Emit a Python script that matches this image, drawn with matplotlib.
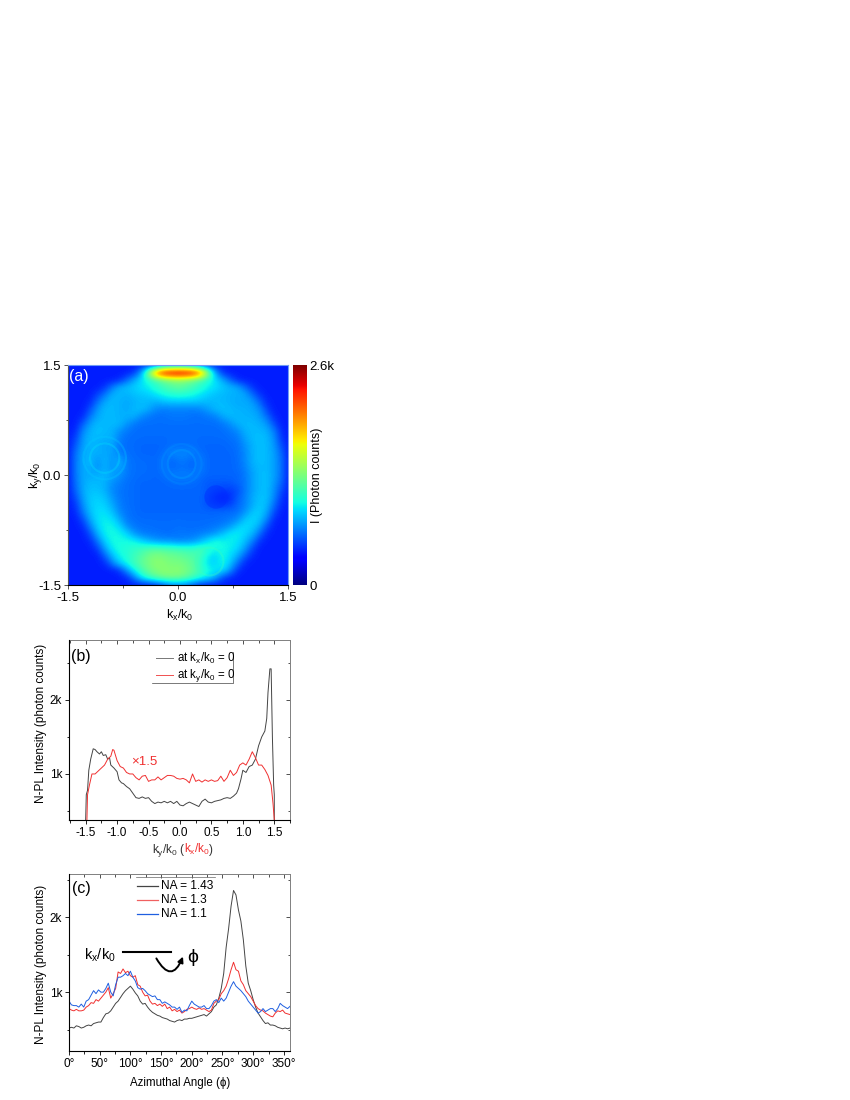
import numpy as np
import matplotlib
matplotlib.use('Agg')
import matplotlib.pyplot as plt
from matplotlib.patches import FancyArrowPatch, Circle
from matplotlib.lines import Line2D

plt.rcParams['font.family'] = ['Liberation Sans', 'DejaVu Sans']
plt.rcParams['mathtext.default'] = 'regular'

W, H = 850, 1100

# --------------------------------------------------
# Panel (a): intensity map, read off on a 0.1 grid (units of 10 counts)
# top row is ky = 1.5, left column is kx = -1.5
# --------------------------------------------------
map_rows = [
    [42]*12 + [46,52,58,60,58,52,46] + [42]*12,
    [42]*9 + [46,70,140,215,250,258,260,258,250,215,140,70,46] + [42]*9,
    [42]*7 + [44,54,70,84,96,108,118,126,130,126,118,108,96,84,70,54,44] + [42]*7,
    [42]*5 + [46,58,72,76,80,84,90,98,106,112,116,112,106,98,90,84,78,74,70,56,46] + [42]*5,
    [42]*4 + [48,58,72,74,72,76,78,80,86,92,96,98,96,92,86,80,76,74,72,72,70,56,46] + [42]*4,
    [42]*3 + [44,56,70,74,72,70,72,74,74,72,76,78,78,78,78,76,74,74,74,72,70,70,68,54,44] + [42]*3,
    [42]*3 + [50,66,74,74,72,70,74,76,70,62,60,60,60,60,60,62,68,74,76,74,72,72,70,64,48] + [42]*3,
    [42]*2 + [44,58,70,74,74,72,72,72,62,58,56,56,58,58,58,56,56,58,60,70,74,74,72,72,68,56,44] + [42]*2,
    [42]*2 + [52,68,74,74,74,74,66,58,56] + [56]*9 + [56,58,64,72,74,74,72,66,50] + [42]*2,
    [42,44,62,72,76,74,72,64,58,56,55] + [55]*9 + [55,56,58,62,72,74,74,72,60,44,42],
    [42,48,66,74,74,72,72,60,56,55,55] + [55]*9 + [55,55,56,58,68,74,76,74,64,46,42],
    [42,52,68,74,72,68,70,58,55,55,54,54,54,54,56,56,56,56,54,54,54,54,55,56,64,72,76,74,66,50,42],
    [42,56,70,72,72,70,68,60,56,55,54,54,54,56,62,62,62,60,56,54,54,54,54,56,62,72,76,74,68,54,42],
    [42,58,70,76,64,74,64,72,58,56,55,55,54,60,54,58,58,54,60,54,54,54,54,55,62,72,76,74,68,56,42],
    [42,58,70,72,64,72,64,70,58,56,55,55,54,60,54,56,56,54,60,54,54,54,54,55,60,70,74,74,68,56,42],
    [42,58,70,70,72,74,70,64,58,56,55,55,54,56,60,60,60,60,56,54,54,54,54,54,58,68,74,76,68,56,42],
    [42,56,70,74,74,72,64,60,56,55,54,54,54,54,55,56,56,55,54,52,52,52,52,54,58,68,74,76,66,54,42],
    [42,54,70,76,76,72,62,58,56,55,54,54,54,54,54,54,54,54,54,52,50,48,48,50,58,68,74,76,64,50,42],
    [42,50,68,78,80,76,66,58,56,55,54,54,54,54,54,54,54,54,54,50,44,42,44,52,60,70,76,76,62,46,42],
    [42,46,64,78,82,80,70,60,56,55,54,54,54,54,54,54,54,54,54,50,48,46,48,54,60,70,78,74,56,44,42],
    [42,44,58,76,84,84,76,62,57,55,54] + [54]*9 + [54,55,55,56,64,76,80,70,50,42,42],
    [42,42,50,70,84,88,84,70,58,56,55] + [55]*9 + [55,56,58,62,76,82,78,62,44,42,42],
    [42,42,44,60,80,90,90,82,64,58,56,56,55,55,55,56,55,55,55,56,58,60,66,78,84,80,70,50,42,42,42],
    [42,42,42,50,72,88,92,90,82,66,60,58,58,56,56,58,58,58,60,62,66,76,86,88,82,74,56,44,42,42,42],
    [42,42,42,44,58,80,92,92,92,90,80,72,66,64,64,60,62,64,72,84,94,90,88,86,76,62,46,42,42,42,42],
    [42]*4 + [48,68,88,94,96,100,104,108,110,108,106,104,102,102,106,100,92,92,88,82,68,50] + [42]*5,
    [42]*5 + [54,74,90,96,104,112,122,126,124,120,118,114,110,106,88,82,92,84,72,54,44] + [42]*5,
    [42]*5 + [44,60,80,92,106,116,124,130,128,124,124,120,114,100,84,80,92,78,58,44] + [42]*6,
    [42]*7 + [46,66,88,106,120,126,130,128,130,124,116,104,92,88,84,66,46] + [42]*7,
    [42]*8 + [44,60,86,102,114,122,124,122,116,106,96,86,70,50,44] + [42]*8,
    [42]*12 + [44,50,58,60,58,50,44] + [42]*12,
]
# readings recalibrated against the colour bar
map_counts = np.interp(np.array(map_rows), [42, 55, 74, 120, 260], [40, 60, 80, 125, 260]) * 10.0
count_max = 2600

# rings seen around the three spots: kx, ky, radius, counts
ring_x = [-1.0, -1.0, 0.05, 0.05, 0.43]
ring_y = [0.23, 0.23, 0.15, 0.15, -1.18]
ring_r = [0.20, 0.29, 0.19, 0.27, 0.19]
ring_c = [900, 840, 760, 700, 1100]
# dark spot in the inner disc
spot_x, spot_y, spot_r, spot_c = 0.52, -0.30, 0.16, 440

# --------------------------------------------------
# Panel (b): line cuts (counts / 1000)
# --------------------------------------------------
k_black = [-1.5,-1.49,-1.47,-1.45,-1.42,-1.38,-1.35,-1.32,-1.28,-1.25,-1.22,-1.18,-1.15,-1.12,-1.1,-1.05,-1.0,-.97,-.93,-.9,
           -.85,-.8,-.75,-.7,-.65,-.6,-.55,-.5,-.45,-.4,-.35,-.3,-.25,-.2,-.15,-.1,-.05,0,.05,.1,.15,.2,.25,.3,.35,.4,.45,.5,
           .55,.6,.65,.7,.75,.8,.85,.9,.93,.97,1.0,1.05,1.1,1.15,1.2,1.25,1.3,1.35,1.38,1.4,1.43,1.45,1.47,1.49,1.5,1.5]
i_black = [.38,.72,.78,1.05,1.2,1.34,1.33,1.30,1.27,1.3,1.25,1.26,1.2,1.22,1.12,1.08,1.03,.92,.88,.87,
           .83,.8,.74,.68,.67,.69,.67,.68,.63,.6,.62,.61,.63,.61,.63,.6,.63,.58,.57,.6,.62,.6,.58,.56,.63,.66,.62,.61,
           .63,.64,.65,.67,.68,.67,.7,.74,.8,.93,1.05,1.02,1.1,1.12,1.2,1.38,1.5,1.58,1.75,2.1,2.42,2.42,1.5,.85,.72,.38]
k_red = [-1.48,-1.47,-1.44,-1.4,-1.35,-1.3,-1.25,-1.2,-1.15,-1.1,-1.07,-1.05,-1.0,-.95,-.9,-.85,-.8,-.75,-.7,-.65,-.6,-.55,
         -.5,-.45,-.4,-.35,-.3,-.25,-.2,-.15,-.1,-.05,0,.05,.1,.15,.2,.25,.3,.35,.4,.45,.5,.55,.6,.65,.7,.75,.8,.85,.9,.95,
         1.0,1.05,1.1,1.15,1.2,1.25,1.3,1.35,1.4,1.45,1.48,1.5]
i_red = [.38,.72,.85,1.0,1.0,1.04,1.08,1.12,1.2,1.24,1.33,1.32,1.18,1.1,1.08,1.02,1.0,1.0,.95,.92,.97,.98,
         .9,.92,.92,.96,.92,.95,.98,.98,.97,.94,.93,.94,.92,.88,1.0,.9,.92,.89,.92,.9,.92,.9,.91,.97,.9,.95,1.05,.98,1.02,1.12,
         1.15,1.12,1.2,1.3,1.22,1.12,1.12,1.06,.98,.85,.6,.38]

# --------------------------------------------------
# Panel (c): azimuthal profiles, read every 4 degrees (counts / 1000)
# --------------------------------------------------
phi = list(range(0, 361, 4))
na_143 = [.52,.53,.52,.55,.54,.52,.53,.55,.56,.55,.58,.59,.6,.6,.66,.71,.72,.75,.8,.85,.88,.93,.98,1.02,1.05,1.08,
          1.04,.99,.95,.88,.84,.85,.8,.76,.73,.71,.69,.68,.66,.65,.64,.62,.61,.6,.62,.63,.62,.64,.64,.65,.65,.66,.67,.68,.69,.7,
          .68,.71,.74,.8,.83,.92,1.05,1.25,1.6,1.85,2.15,2.36,2.3,2.1,1.95,1.7,1.35,1.12,1.02,.9,.8,.72,.67,.62,.58,.59,.56,.56,.55,.53,.52,.51,.52,.51,.52]
na_13 = [.78,.76,.75,.77,.75,.75,.76,.8,.82,.86,.85,.9,.88,.92,.96,1.0,1.06,.92,.98,1.05,1.27,1.25,1.31,1.26,1.28,1.22,
         1.2,1.22,1.1,1.08,1.0,.95,.96,.88,.84,.85,.82,.84,.81,.84,.78,.8,.75,.77,.74,.76,.72,.74,.77,.78,.8,.78,.77,.79,.77,.78,
         .76,.74,.76,.85,.88,.9,.98,1.02,1.08,1.18,1.3,1.4,1.3,1.28,1.15,1.1,1.02,.98,.94,.88,.82,.78,.76,.75,.72,.7,.68,.67,.72,.75,.74,.76,.72,.71,.7]
na_11 = [.88,.83,.82,.82,.8,.84,.8,.88,.9,.96,1.02,.98,1.03,1.0,1.0,1.05,1.12,1.0,.95,1.1,1.2,1.2,1.22,1.25,1.22,1.28,
         1.2,1.15,1.06,1.04,1.05,1.02,.98,.96,.94,.95,.9,.9,.85,.87,.85,.83,.8,.8,.77,.8,.73,.76,.75,.82,.88,.84,.82,.8,.8,.82,
         .78,.78,.82,.88,.9,.86,.92,.88,.92,1.0,1.08,1.14,1.08,1.05,1.02,.98,.94,.88,.84,.8,.76,.72,.74,.78,.74,.76,.78,.78,.74,.78,.85,.82,.8,.78,.81]


def ax_px(left, top, right, bottom):
    return [left / W, 1 - bottom / H, (right - left) / W, (bottom - top) / H]


def txt(x, y, s, **kw):
    kw.setdefault('ha', 'center')
    kw.setdefault('va', 'center')
    return fig.text(x / W, 1 - y / H, s, **kw)


def mirror_ticks(ax):
    """inward ticks on top and right, no labels"""
    top = ax.secondary_xaxis('top')
    top.set_xticks(ax.get_xticks(), labels=[])
    top.set_xticks(ax.get_xticks(minor=True), minor=True)
    right = ax.secondary_yaxis('right')
    right.set_yticks(ax.get_yticks(), labels=[])
    right.set_yticks(ax.get_yticks(minor=True), minor=True)
    for sec in (top, right):
        sec.tick_params(which='major', direction='in', length=3, width=0.6, color='#333333')
        sec.tick_params(which='minor', direction='in', length=1.8, width=0.6, color='#333333')
        for s in sec.spines.values():
            s.set_color('#808080')
            s.set_linewidth(0.7)
    ax.spines['top'].set_visible(False)
    ax.spines['right'].set_visible(False)


fig = plt.figure(figsize=(W / 100, H / 100), dpi=100)

# Panel (a)
ax_a = fig.add_axes(ax_px(68, 365, 288, 585))
ax_a.imshow(map_counts, extent=(-1.55, 1.55, -1.55, 1.55), cmap='jet', vmin=0, vmax=count_max,
            interpolation='bicubic', aspect='auto')
for cx, cy, r, c in zip(ring_x, ring_y, ring_r, ring_c):
    ax_a.add_patch(Circle((cx, cy), r, fill=False, lw=1.5, alpha=0.3,
                          edgecolor=plt.cm.jet(c / count_max)))
ax_a.add_patch(Circle((spot_x, spot_y), spot_r, lw=0, alpha=0.45, facecolor=plt.cm.jet(spot_c / count_max)))
ax_a.set_xlim(-1.5, 1.5)
ax_a.set_ylim(-1.5, 1.5)
ax_a.set_xticks([-1.5, 0, 1.5], ['-1.5', '0.0', '1.5'])
ax_a.set_yticks([-1.5, 0, 1.5], ['-1.5', '0.0', '1.5'])
ax_a.set_xticks([-.75, .75], minor=True)
ax_a.set_yticks([-.75, .75], minor=True)
ax_a.tick_params(which='major', labelsize=9.5, length=3, width=0.7, pad=2, color='#555555')
ax_a.tick_params(which='minor', length=1.8, width=0.7, color='#555555')
ax_a.spines['left'].set_color('#555555')
for s in ['top', 'right']:
    ax_a.spines[s].set_color('#6f9cf5')
txt(79, 377, '(a)', color='white', fontsize=11.5)
txt(180, 615, '$k_x/k_0$', fontsize=9)
txt(35, 475, '$k_y/k_0$', fontsize=9, rotation=90)

# colour bar
ax_cb = fig.add_axes(ax_px(293, 365, 307, 585))
ax_cb.imshow(np.linspace(1, 0, 256)[:, None], cmap='jet', aspect='auto', extent=(0, 1, 0, count_max))
ax_cb.set_xticks([])
ax_cb.yaxis.tick_right()
ax_cb.set_yticks([0, count_max], ['0', '2.6k'])
ax_cb.tick_params(labelsize=9.5, length=0, pad=2)
for s in ax_cb.spines.values():
    s.set_visible(False)
txt(317, 475, 'I (Photon counts)', fontsize=9, rotation=90)

# Panel (b)
ax_b = fig.add_axes(ax_px(69, 640, 290, 820))
ax_b.plot(k_black, i_black, color='#444444', lw=0.7)
ax_b.plot(k_red, i_red, color='#f03030', lw=0.7)
ax_b.set_xlim(-1.765, 1.74)
ax_b.set_ylim(0.378, 2.81)
ax_b.set_xticks(np.arange(-1.5, 1.6, 0.5), ['-1.5', '-1.0', '-0.5', '0.0', '0.5', '1.0', '1.5'])
ax_b.set_xticks(np.arange(-1.75, 1.76, 0.5), minor=True)
ax_b.set_yticks([1, 2], ['1k', '2k'])
ax_b.set_yticks([0.5, 1.5, 2.5], minor=True)
ax_b.tick_params(which='major', labelsize=8.5, length=3, width=0.6, pad=2)
ax_b.tick_params(which='minor', length=1.8, width=0.6)
mirror_ticks(ax_b)
txt(81, 657, '(b)', fontsize=11.5)
txt(144, 762, '\u00d71.5', color='#f03030', fontsize=9.5)
txt(41, 723, 'N-PL Intensity (photon counts)', fontsize=8.5, rotation=90)

# x label in three colours on one baseline
x_pos = 152
for s, c in zip(['$k_y/k_0$ (', '$k_x/k_0$', ')'], ['#333333', '#f03030', '#333333']):
    t = txt(x_pos, 853, s, fontsize=8.5, ha='left', va='baseline', color=c)
    x_pos += t.get_window_extent(fig.canvas.get_renderer()).width - 1.5

fig.add_artist(Line2D([156 / W, 173 / W], [1 - 658 / H] * 2, color='#777777', lw=0.7))
fig.add_artist(Line2D([156 / W, 173 / W], [1 - 675 / H] * 2, color='#f05050', lw=0.7))
txt(177, 658, 'at $k_x/k_0$ = 0', fontsize=8.3, ha='left')
txt(177, 675, 'at $k_y/k_0$ = 0', fontsize=8.3, ha='left')
fig.add_artist(Line2D([152 / W, 233 / W, 233 / W], [1 - 683 / H, 1 - 683 / H, 1 - 652 / H], color='#444444', lw=0.5))

# Panel (c)
ax_c = fig.add_axes(ax_px(69, 874, 290, 1051))
ax_c.plot(phi, na_143, color='#444444', lw=0.7)
ax_c.plot(phi, na_13, color='#f03030', lw=0.7)
ax_c.plot(phi, na_11, color='#1f5fe0', lw=0.7)
ax_c.set_xlim(0, 360)
ax_c.set_ylim(0.213, 2.58)
ax_c.set_xticks(range(0, 360, 50), [f'{v}\u00b0' for v in range(0, 360, 50)])
ax_c.set_xticks(range(25, 360, 50), minor=True)
ax_c.set_yticks([1, 2], ['1k', '2k'])
ax_c.set_yticks([0.5, 1.5, 2.5], minor=True)
ax_c.tick_params(which='major', labelsize=8.5, length=3, width=0.6, pad=2)
ax_c.tick_params(which='minor', length=1.8, width=0.6)
mirror_ticks(ax_c)
txt(81, 888, '(c)', fontsize=11.5)
txt(41, 964, 'N-PL Intensity (photon counts)', fontsize=8.5, rotation=90)
txt(180, 1083, 'Azimuthal Angle (\u03d5)', fontsize=8.3)
fig.add_artist(Line2D([136 / W, 215 / W], [1 - 877 / H] * 2, color='#666666', lw=0.5))
for y, s, c in zip([886, 900, 914], ['NA = 1.43', 'NA = 1.3', 'NA = 1.1'], ['#444444', '#f06060', '#1f5fe0']):
    fig.add_artist(Line2D([137 / W, 158 / W], [1 - y / H] * 2, color=c, lw=0.9))
    txt(161, y, s, fontsize=8.6, ha='left')
txt(100, 955, '$k_x/k_0$', fontsize=10.5)
fig.add_artist(Line2D([123 / W, 171 / W], [1 - 952 / H] * 2, color='black', lw=1.5))
fig.add_artist(FancyArrowPatch((155 / W, 1 - 956 / H), (184 / W, 1 - 954 / H), transform=fig.transFigure,
                               connectionstyle='arc3,rad=1.1', arrowstyle='-|>', mutation_scale=8,
                               color='black', lw=1.4))
txt(193, 958, '\u03d5', fontsize=14)

fig.savefig('out.png', dpi=100)
